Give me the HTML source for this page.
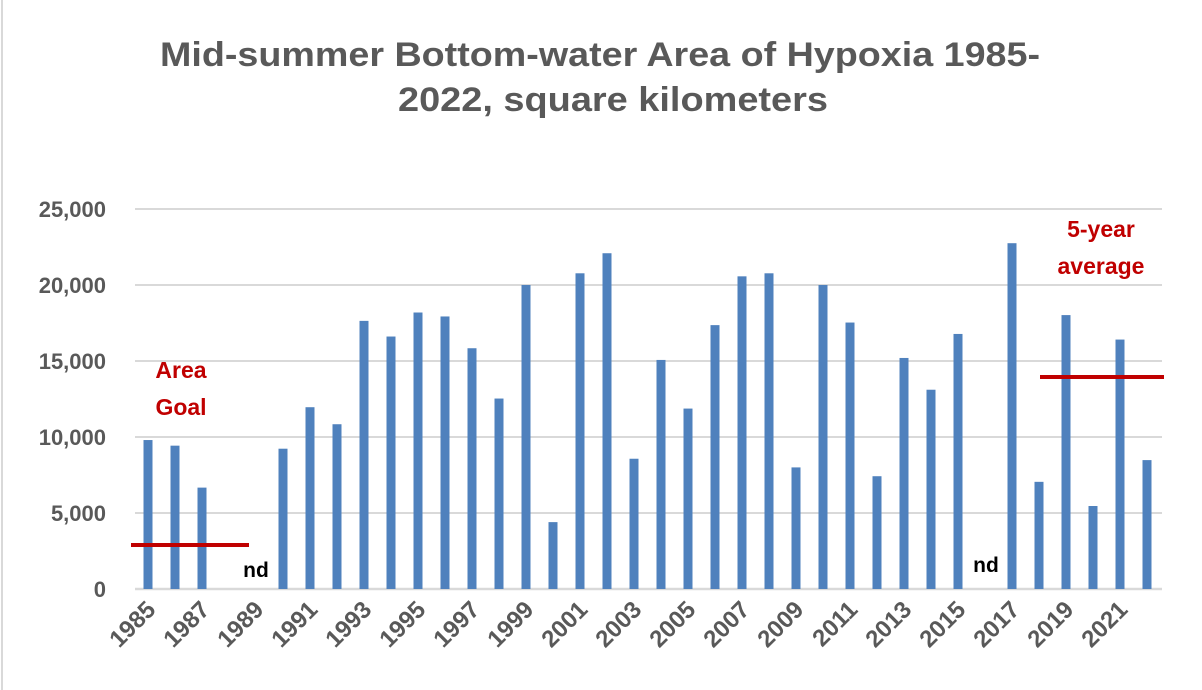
<!DOCTYPE html>
<html><head><meta charset="utf-8"><style>
html,body{margin:0;padding:0;background:#fff}
svg{display:block;font-family:"Liberation Sans",sans-serif}
</style></head><body>
<svg id="chart" width="1202" height="690" viewBox="0 0 1202 690">
<rect x="0" y="0" width="1202" height="690" fill="#fff"/>
<line x1="2" y1="0" x2="2" y2="690" stroke="#d9d9d9" stroke-width="2"/>
<text x="600" y="66" text-anchor="middle" font-size="34" font-weight="bold" fill="#595959" textLength="880" lengthAdjust="spacingAndGlyphs">Mid-summer Bottom-water Area of Hypoxia 1985-</text>
<text x="613" y="111" text-anchor="middle" font-size="34" font-weight="bold" fill="#595959" textLength="430" lengthAdjust="spacingAndGlyphs">2022, square kilometers</text>
<g id="grid"></g><g id="bars"></g><g id="xlabels"></g>
<line x1="131" y1="545" x2="249" y2="545" stroke="#c00000" stroke-width="4"/>
<line x1="1040" y1="377" x2="1164" y2="377" stroke="#c00000" stroke-width="4"/>
<text x="181" y="378" text-anchor="middle" font-size="23" font-weight="bold" fill="#c00000">Area</text>
<text x="181" y="415" text-anchor="middle" font-size="23" font-weight="bold" fill="#c00000">Goal</text>
<text x="1101" y="237" text-anchor="middle" font-size="23" font-weight="bold" fill="#c00000">5-year</text>
<text x="1101" y="274" text-anchor="middle" font-size="23" font-weight="bold" fill="#c00000">average</text>
<text x="256" y="577" text-anchor="middle" font-size="21" font-weight="bold" fill="#000">nd</text>
<text x="986" y="572" text-anchor="middle" font-size="21" font-weight="bold" fill="#000">nd</text>
</svg>
<script>
const years = [1985,1986,1987,1988,1989,1990,1991,1992,1993,1994,1995,1996,1997,1998,1999,2000,2001,2002,2003,2004,2005,2006,2007,2008,2009,2010,2011,2012,2013,2014,2015,2016,2017,2018,2019,2020,2021,2022];
const areas = [9800,9430,6670,null,null,9230,11960,10840,17640,16610,18190,17930,15840,12530,20000,4400,20770,22090,8570,15070,11870,17360,20570,20770,8000,20000,17530,7420,15200,13110,16780,null,22750,7050,18020,5460,16410,8480];
const yTicks = [0,5000,10000,15000,20000,25000];
const yTickLabels = ["0","5,000","10,000","15,000","20,000","25,000"];
const NS="http://www.w3.org/2000/svg";
const x0=148, dx=27, yBase=589, yTop=209, yMax=25000;
function xs(i){return x0+i*dx;}
function ys(v){return yBase-(v/yMax)*(yBase-yTop);}
const grid=document.getElementById('grid'), bars=document.getElementById('bars'), xl=document.getElementById('xlabels');
yTicks.forEach((t,i)=>{
  const l=document.createElementNS(NS,'line');
  
  
  l.setAttribute('x1',135);l.setAttribute('x2',1162);
  l.setAttribute('y1',ys(t));l.setAttribute('y2',ys(t));
  l.setAttribute('stroke','#d9d9d9');l.setAttribute('stroke-width',t===0?2.5:2);
  grid.appendChild(l);
  const tx=document.createElementNS(NS,'text');
  
  
  tx.setAttribute('x',106);tx.setAttribute('y',ys(t)+8);
  tx.setAttribute('text-anchor','end');tx.setAttribute('font-size','22');
  tx.setAttribute('font-weight','bold');tx.setAttribute('fill','#595959');
  tx.textContent=yTickLabels[i];
  grid.appendChild(tx);
});
areas.forEach((v,i)=>{
  if(v==null) return;
  const r=document.createElementNS(NS,'rect');
  
  
  r.setAttribute('x',xs(i)-4.5);r.setAttribute('width',9);
  r.setAttribute('y',ys(v));r.setAttribute('height',yBase-ys(v));
  r.setAttribute('fill','#4f81bd');
  bars.appendChild(r);
});
years.forEach((y,i)=>{
  if(i%2) return;
  const t=document.createElementNS(NS,'text');
  
  
  const px=xs(i)+9, py=611;
  t.setAttribute('x',px);t.setAttribute('y',py);
  t.setAttribute('text-anchor','end');t.setAttribute('font-size','24');
  t.setAttribute('font-weight','bold');t.setAttribute('fill','#595959');
  t.setAttribute('transform','rotate(-45 '+px+' '+py+')');
  t.textContent=y;
  xl.appendChild(t);
});
</script>
</body></html>
